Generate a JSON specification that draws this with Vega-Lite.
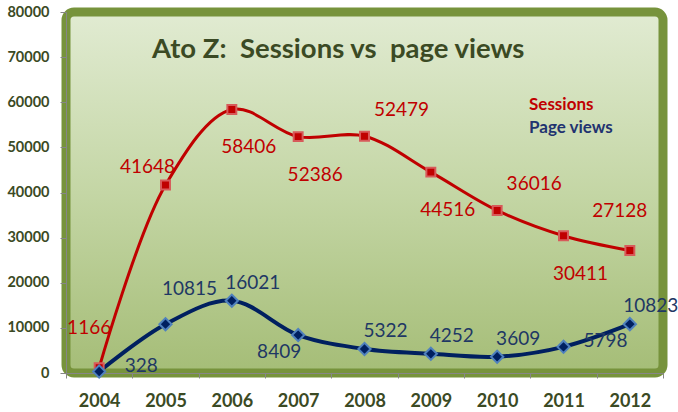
{
  "$schema": "https://vega.github.io/schema/vega-lite/v6.json",
  "width": 597,
  "height": 361,
  "autosize": {"type": "none"},
  "padding": {"left": 66, "top": 12, "right": 15, "bottom": 39},
  "background": "white",
  "title": {
    "text": "Ato Z: \u00a0Sessions vs \u00a0page views",
    "anchor": "start",
    "frame": "group",
    "baseline": "alphabetic",
    "offset": 0,
    "dx": 86,
    "dy": 81,
    "font": "Lato",
    "fontSize": 27.5,
    "fontWeight": "bold",
    "color": "#3b4a24"
  },
  "config": {
    "font": "Lato",
    "view": {
      "fill": {
        "gradient": "linear",
        "x1": 0, "y1": 0, "x2": 0, "y2": 1,
        "stops": [
          {"offset": 0, "color": "#e1ebd2"},
          {"offset": 0.5, "color": "#c4d6a5"},
          {"offset": 1, "color": "#a5bd77"}
        ]
      },
      "stroke": "#77933c",
      "strokeWidth": 9,
      "cornerRadius": 8
    },
    "axis": {
      "grid": false,
      "domainColor": "#868686",
      "tickColor": "#868686",
      "labelColor": "#3b4a24",
      "labelFont": "Lato",
      "labelFontWeight": "bold",
      "title": null
    }
  },
  "data": {
    "values": [
      {"year": "2004", "series": "Sessions", "value": 1166},
      {"year": "2005", "series": "Sessions", "value": 41648},
      {"year": "2006", "series": "Sessions", "value": 58406},
      {"year": "2007", "series": "Sessions", "value": 52386},
      {"year": "2008", "series": "Sessions", "value": 52479},
      {"year": "2009", "series": "Sessions", "value": 44516},
      {"year": "2010", "series": "Sessions", "value": 36016},
      {"year": "2011", "series": "Sessions", "value": 30411},
      {"year": "2012", "series": "Sessions", "value": 27128},
      {"year": "2004", "series": "Page views", "value": 328},
      {"year": "2005", "series": "Page views", "value": 10815},
      {"year": "2006", "series": "Page views", "value": 16021},
      {"year": "2007", "series": "Page views", "value": 8409},
      {"year": "2008", "series": "Page views", "value": 5322},
      {"year": "2009", "series": "Page views", "value": 4252},
      {"year": "2010", "series": "Page views", "value": 3609},
      {"year": "2011", "series": "Page views", "value": 5798},
      {"year": "2012", "series": "Page views", "value": 10823}
    ]
  },
  "encoding": {
    "x": {
      "field": "year",
      "type": "ordinal",
      "scale": {"type": "band", "paddingInner": 0, "paddingOuter": 0},
      "axis": {
        "labelAngle": 0,
        "labelFontSize": 18,
        "tickBand": "extent",
        "tickSize": 5,
        "labelPadding": 14
      }
    },
    "y": {
      "field": "value",
      "type": "quantitative",
      "scale": {"domain": [0, 80000], "nice": false},
      "axis": {
        "values": [0, 10000, 20000, 30000, 40000, 50000, 60000, 70000, 80000],
        "format": "d",
        "labelFontSize": 14.5,
        "tickSize": 6,
        "labelPadding": 11
      }
    }
  },
  "layer": [
    {
      "mark": {"type": "line", "interpolate": "catmull-rom"},
      "encoding": {
        "color": {
          "field": "series",
          "type": "nominal",
          "scale": {"domain": ["Sessions", "Page views"], "range": ["#c00000", "#002060"]},
          "legend": {
            "title": null,
            "orient": "none",
            "legendX": 446,
            "legendY": 84,
            "symbolSize": 0,
            "symbolStrokeWidth": 0,
            "symbolOpacity": 0,
            "labelOffset": 0,
            "labelFont": "Lato",
            "labelFontSize": 17,
            "labelFontWeight": "bold",
            "rowPadding": 5,
            "encode": {
              "symbols": {
                "update": {
                  "opacity": {"value": 0},
                  "size": {"value": 0}
                }
              },
              "labels": {
                "update": {
                  "fill": {"signal": "datum.value === 'Sessions' ? '#c00000' : '#1f3370'"}
                }
              }
            }
          }
        },
        "strokeWidth": {
          "field": "series",
          "type": "nominal",
          "scale": {"domain": ["Sessions", "Page views"], "range": [3, 4]},
          "legend": null
        }
      }
    },
    {
      "mark": {"type": "point", "filled": true, "strokeWidth": 2, "opacity": 1},
      "encoding": {
        "shape": {
          "field": "series",
          "type": "nominal",
          "scale": {"domain": ["Sessions", "Page views"], "range": ["square", "diamond"]},
          "legend": null
        },
        "size": {
          "field": "series",
          "type": "nominal",
          "scale": {"domain": ["Sessions", "Page views"], "range": [80, 150]},
          "legend": null
        },
        "fill": {
          "field": "series",
          "type": "nominal",
          "scale": {"domain": ["Sessions", "Page views"], "range": ["#c00000", "#002060"]},
          "legend": null
        },
        "stroke": {
          "field": "series",
          "type": "nominal",
          "scale": {"domain": ["Sessions", "Page views"], "range": ["#d75a5a", "#4f81bd"]},
          "legend": null
        }
      }
    },
    {
      "transform": [
        {"filter": {"field": "series", "equal": "Sessions"}},
        {"filter": {"field": "year", "oneOf": ["2006", "2007", "2009", "2011"]}}
      ],
      "mark": {"type": "text", "dx": 17, "dy": 38, "fontSize": 19, "color": "#c00000"},
      "encoding": {"text": {"field": "value", "type": "quantitative", "format": "d"}}
    },
    {
      "transform": [
        {"filter": {"field": "series", "equal": "Sessions"}},
        {"filter": {"field": "year", "oneOf": ["2004", "2012"]}}
      ],
      "mark": {"type": "text", "dx": -10, "dy": -40, "fontSize": 19, "color": "#c00000"},
      "encoding": {"text": {"field": "value", "type": "quantitative", "format": "d"}}
    },
    {
      "transform": [
        {"filter": {"field": "series", "equal": "Sessions"}},
        {"filter": {"field": "year", "oneOf": ["2005"]}}
      ],
      "mark": {"type": "text", "dx": -18, "dy": -18, "fontSize": 19, "color": "#c00000"},
      "encoding": {"text": {"field": "value", "type": "quantitative", "format": "d"}}
    },
    {
      "transform": [
        {"filter": {"field": "series", "equal": "Sessions"}},
        {"filter": {"field": "year", "oneOf": ["2008", "2010"]}}
      ],
      "mark": {"type": "text", "dx": 37, "dy": -26, "fontSize": 19, "color": "#c00000"},
      "encoding": {"text": {"field": "value", "type": "quantitative", "format": "d"}}
    },
    {
      "transform": [
        {"filter": {"field": "series", "equal": "Page views"}},
        {"filter": {"field": "year", "oneOf": ["2006", "2008", "2009", "2010", "2012"]}}
      ],
      "mark": {"type": "text", "dx": 21, "dy": -18, "fontSize": 19, "color": "#1f3864"},
      "encoding": {"text": {"field": "value", "type": "quantitative", "format": "d"}}
    },
    {
      "transform": [
        {"filter": {"field": "series", "equal": "Page views"}},
        {"filter": {"field": "year", "oneOf": ["2005"]}}
      ],
      "mark": {"type": "text", "dx": 24, "dy": -35, "fontSize": 19, "color": "#1f3864"},
      "encoding": {"text": {"field": "value", "type": "quantitative", "format": "d"}}
    },
    {
      "transform": [
        {"filter": {"field": "series", "equal": "Page views"}},
        {"filter": {"field": "year", "oneOf": ["2004", "2011"]}}
      ],
      "mark": {"type": "text", "dx": 42, "dy": -6, "fontSize": 19, "color": "#1f3864"},
      "encoding": {"text": {"field": "value", "type": "quantitative", "format": "d"}}
    },
    {
      "transform": [
        {"filter": {"field": "series", "equal": "Page views"}},
        {"filter": {"field": "year", "oneOf": ["2007"]}}
      ],
      "mark": {"type": "text", "dx": -19, "dy": 17, "fontSize": 19, "color": "#1f3864"},
      "encoding": {"text": {"field": "value", "type": "quantitative", "format": "d"}}
    }
  ]
}
